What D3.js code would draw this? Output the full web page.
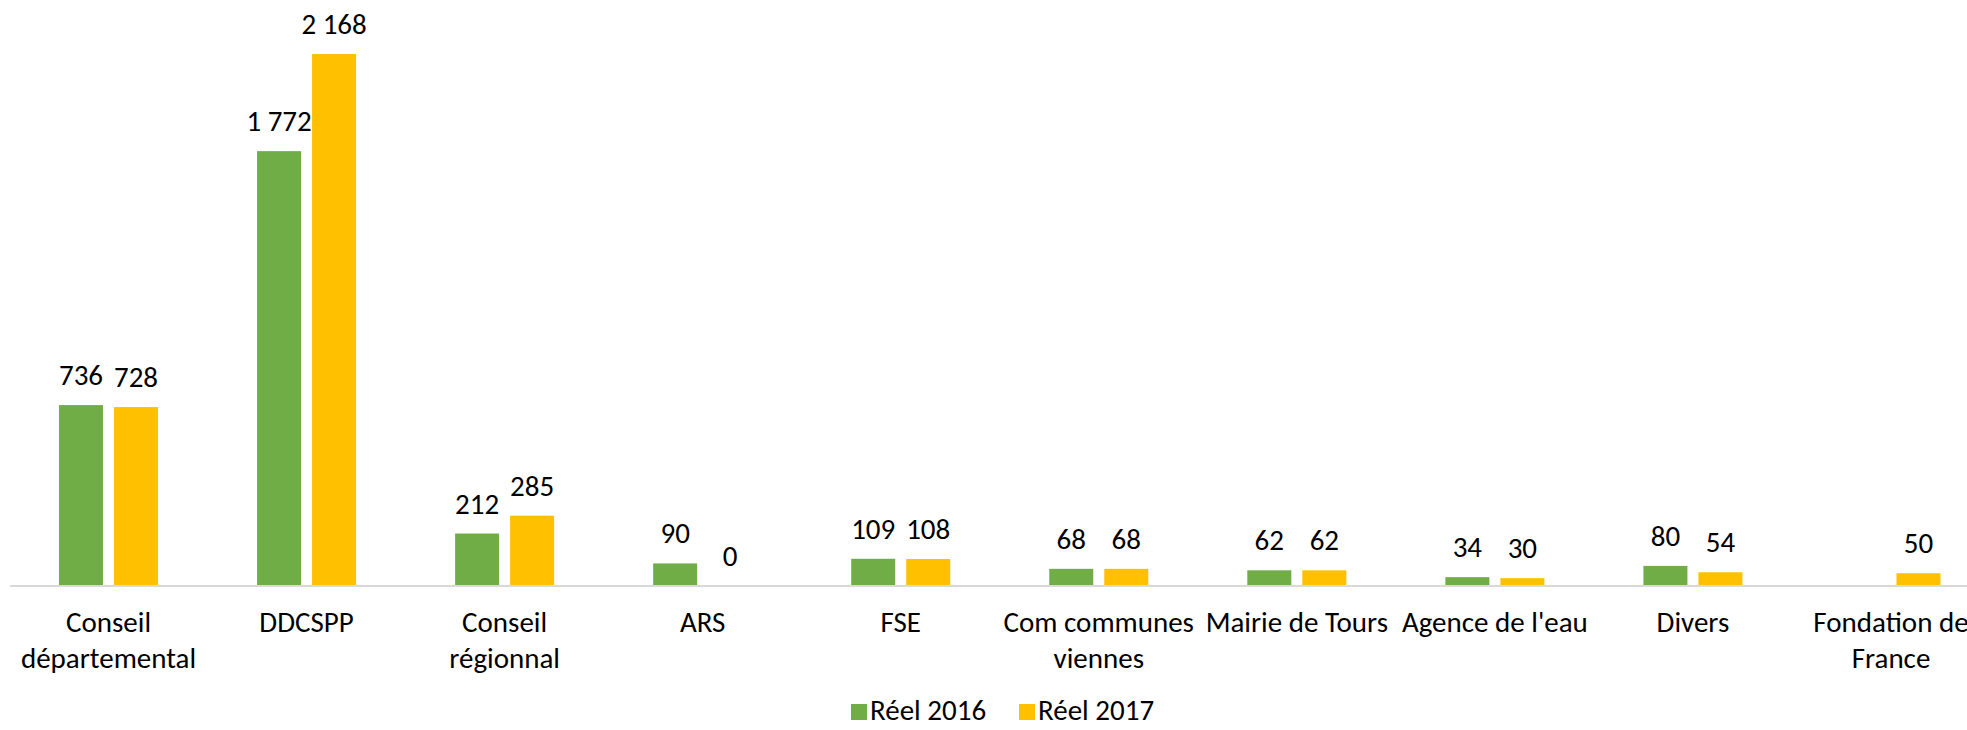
<!DOCTYPE html>
<html>
<head>
<meta charset="utf-8">
<script src="https://cdn.jsdelivr.net/npm/d3@7"></script>
<style>
  body { margin: 0; background: #fff; }
  text { font-family: Carlito, Calibri, Lato, sans-serif; fill: #000; }
</style>
</head>
<body>
<div id="chart"></div>
<script>
// categories (explicit line breaks as in the picture)
const categories = [
  "Conseil\ndépartemental", "DDCSPP", "Conseil\nrégionnal", "ARS", "FSE",
  "Com communes\nviennes", "Mairie de Tours", "Agence de l'eau", "Divers", "Fondation de\nFrance"
];
const seriesNames = ["Réel 2016", "Réel 2017"];
const reel2016 = [736, 1772, 212, 90, 109, 68, 62, 34, 80, null];
const reel2017 = [728, 2168, 285, 0, 108, 68, 62, 30, 54, 50];
const colors = ["#70AD47", "#FFC000"];

const width = 1967, height = 730;
const fontSize = 29;

const svg = d3.select("#chart")
  .append("svg")
  .attr("width", width)
  .attr("height", height);

// french number format : "2 168"
const fr = d3.formatLocale({decimal: ",", thousands: "\u00a0", grouping: [3], currency: ["", " €"]});
const fmt = fr.format(",d");

const data = categories.map((c, i) => ({cat: c, values: [reel2016[i], reel2017[i]]}));

// scales (plot runs past the right edge, like the reference)
const x0 = d3.scaleBand()
  .domain(categories)
  .range([9.5, 1990])
  .paddingInner(0.5)
  .paddingOuter(0.25);

const x1 = d3.scaleBand()
  .domain(seriesNames)
  .range([0, x0.bandwidth()])
  .paddingInner(0.2);

const y = d3.scaleLinear()
  .domain([0, 2400])
  .range([585.5, -2.8]);

// bars
const groups = svg.selectAll("g.group")
  .data(data)
  .join("g")
  .attr("class", "group")
  .attr("transform", d => `translate(${x0(d.cat)},0)`);

const cells = d => d.values.map((v, k) => ({name: seriesNames[k], k: k, v: v})).filter(e => e.v !== null);

groups.selectAll("rect")
  .data(cells)
  .join("rect")
  .attr("x", e => x1(e.name))
  .attr("width", x1.bandwidth())
  .attr("y", e => y(e.v))
  .attr("height", e => y(0) - y(e.v))
  .attr("fill", e => colors[e.k]);

// value labels
groups.selectAll("text.val")
  .data(cells)
  .join("text")
  .attr("class", "val")
  .attr("x", e => x1(e.name) + x1.bandwidth() / 2)
  .attr("y", e => y(e.v) - 20)
  .attr("text-anchor", "middle")
  .style("font-size", fontSize + "px")
  .text(e => fmt(e.v));

// x axis
const xAxis = svg.append("g")
  .attr("transform", `translate(0,${y(0)})`)
  .call(d3.axisBottom(x0).tickSize(0).tickSizeOuter(0).tickFormat(""));

xAxis.select(".domain")
  .attr("stroke", "#D9D9D9")
  .attr("stroke-width", 2);

xAxis.selectAll(".tick text").remove();
xAxis.selectAll(".tick")
  .append("text")
  .attr("text-anchor", "middle")
  .style("font-size", fontSize + "px")
  .selectAll("tspan")
  .data(d => d.split("\n"))
  .join("tspan")
  .attr("x", 0)
  .attr("y", (d, i) => 46.5 + i * 35.5)
  .text(d => d);

// legend
const legend = svg.append("g")
  .attr("transform", "translate(851,0)");

const item = legend.selectAll("g")
  .data(seriesNames)
  .join("g")
  .attr("transform", (d, i) => `translate(${i * 168},0)`);

item.append("rect")
  .attr("y", 704)
  .attr("width", 16)
  .attr("height", 16)
  .attr("fill", (d, i) => colors[i]);

item.append("text")
  .attr("x", 19)
  .attr("y", 720)
  .style("font-size", fontSize + "px")
  .text(d => d);
</script>
</body>
</html>
